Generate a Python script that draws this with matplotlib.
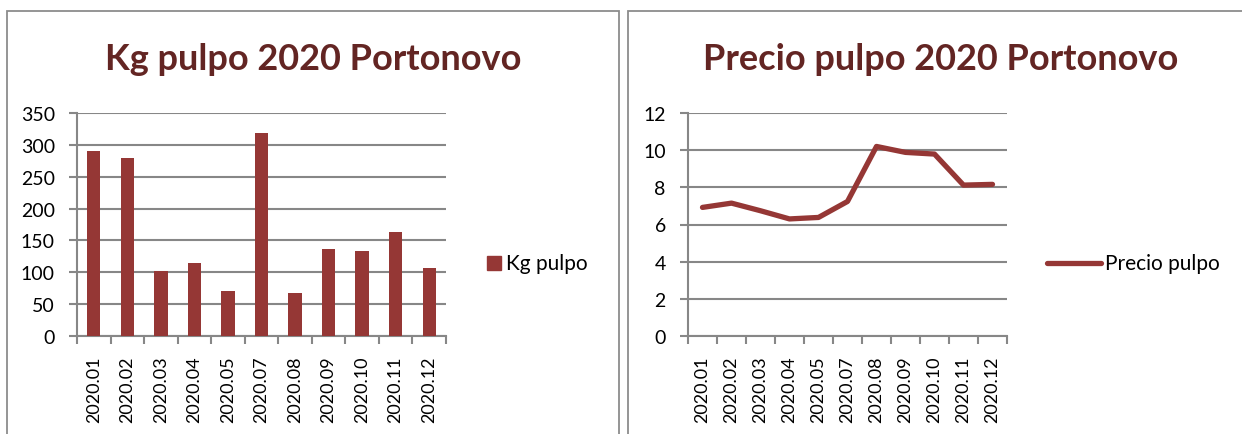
import matplotlib
matplotlib.use("Agg")
import matplotlib.pyplot as plt
from matplotlib.patches import Rectangle
from matplotlib.lines import Line2D
import numpy as np

plt.rcParams['font.family'] = ['Lato', 'DejaVu Sans']

months = ["2020.01", "2020.02", "2020.03", "2020.04", "2020.05", "2020.07",
          "2020.08", "2020.09", "2020.10", "2020.11", "2020.12"]
kg_pulpo = [291, 279, 102, 114, 70, 318, 67, 137, 134, 164, 106]
precio_pulpo = [6.92, 7.15, 6.74, 6.30, 6.38, 7.24, 10.2, 9.88, 9.79, 8.12, 8.16]

title_left = "Kg pulpo 2020 Portonovo"
title_right = "Precio pulpo 2020 Portonovo"
legend_left = "Kg pulpo"
legend_right = "Precio pulpo"

W, H = 1242, 435
fig = plt.figure(figsize=(W / 100, H / 100), dpi=100)
fig.patch.set_facecolor("white")

bar_color = "#953735"
title_color = "#632523"
grid_color = "#878787"
border_color = "#8c8c8c"


def px_axes(x0, y0, x1, y1):
    return fig.add_axes([x0 / W, 1 - y1 / H, (x1 - x0) / W, (y1 - y0) / H])


# panel borders
for (x0, y0, x1, y1) in [(7, 12, 619, 440), (628, 12, 1250, 440)]:
    fig.patches.append(Rectangle((x0 / W, 1 - y1 / H), (x1 - x0) / W, (y1 - y0) / H,
                                 transform=fig.transFigure, fill=False,
                                 edgecolor=border_color, linewidth=1.3))


def style_axes(ax, n, ymax, ystep):
    ax.set_xlim(-0.5, n - 0.5)
    ax.set_ylim(0, ymax)
    ax.set_yticks(np.arange(0, ymax + 0.001, ystep))
    ax.yaxis.grid(True, color=grid_color, linewidth=1.5)
    ax.set_axisbelow(True)
    for s in ["top", "right"]:
        ax.spines[s].set_visible(False)
    for s in ["left", "bottom"]:
        ax.spines[s].set_color(grid_color)
        ax.spines[s].set_linewidth(1.5)
    ax.set_xticks(range(n))
    ax.set_xticklabels(months, rotation=90, fontsize=13, color="black")
    ax.tick_params(axis="x", length=0, pad=14)
    ax.set_xticks(np.arange(-0.5, n, 1), minor=True)
    ax.tick_params(axis="x", which="minor", length=6, width=1.5, color=grid_color)
    ax.tick_params(axis="y", length=6, width=1.5, color=grid_color,
                   labelsize=14, labelcolor="black", pad=10)


n = len(months)
x = np.arange(n)

# left chart
ax1 = px_axes(77, 114, 446, 337)
ax1.bar(x, kg_pulpo, width=0.4, color=bar_color, zorder=3)
style_axes(ax1, n, 350, 50)
fig.text(313 / W, 1 - 70 / H, title_left, ha="center", va="baseline",
         fontsize=26, fontweight="bold", color=title_color)
fig.patches.append(Rectangle((487 / W, 1 - 271 / H), 14 / W, 14 / H,
                             transform=fig.transFigure, color=bar_color))
fig.text(506 / W, 1 - 264 / H, legend_left, ha="left", va="center",
         fontsize=15, color="black")

# right chart
ax2 = px_axes(688, 114, 1007, 337)
ax2.plot(x, precio_pulpo, color=bar_color, linewidth=3.8, solid_capstyle="round",
         solid_joinstyle="round", zorder=3)
style_axes(ax2, n, 12, 2)
fig.text(941 / W, 1 - 70 / H, title_right, ha="center", va="baseline",
         fontsize=26, fontweight="bold", color=title_color)
fig.lines.append(Line2D([1047 / W, 1101 / W], [1 - 264 / H, 1 - 264 / H],
                        transform=fig.transFigure, color=bar_color, linewidth=3.8,
                        solid_capstyle="round"))
fig.text(1105 / W, 1 - 264 / H, legend_right, ha="left", va="center",
         fontsize=15, color="black")

fig.savefig("out.png", dpi=100)
